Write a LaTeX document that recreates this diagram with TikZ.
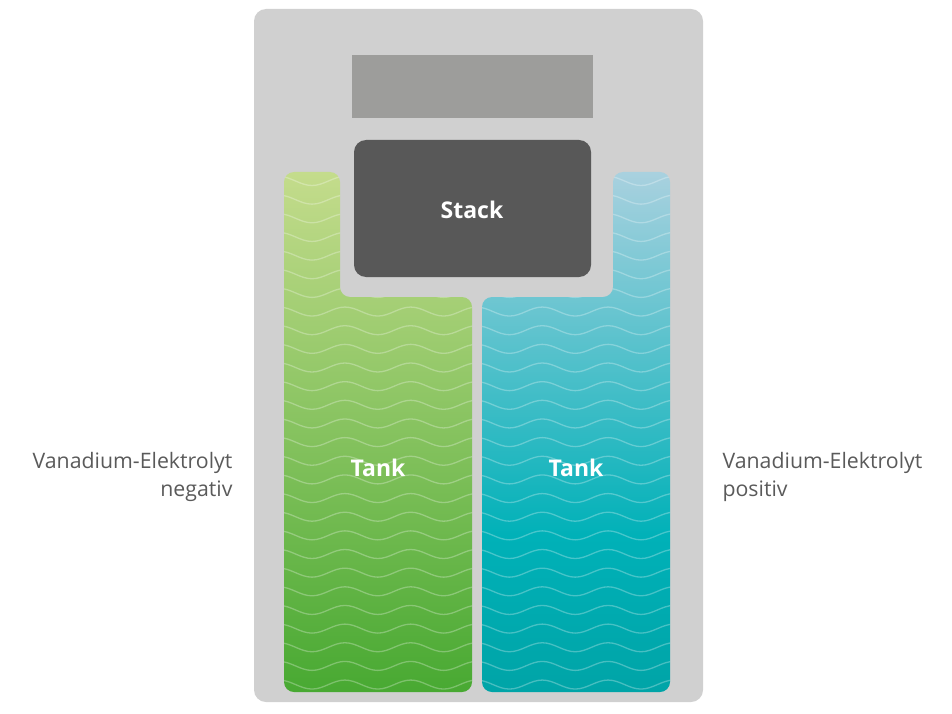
\documentclass[tikz,border=0pt]{standalone}
\usepackage{fontspec}
\setmainfont{Open Sans}
\usepackage{tikz}
\usepackage{xcolor}
\definecolor{housing}{HTML}{D0D0D0}
\definecolor{panelgray}{HTML}{9D9D9B}
\definecolor{stackgray}{HTML}{585858}
\definecolor{labelgray}{HTML}{5A5A5A}
\definecolor{negtop}{HTML}{C4DC8C}
\definecolor{negbottom}{HTML}{48A932}
\definecolor{postop}{HTML}{A9D1DF}
\definecolor{posmid}{HTML}{00B1B8}
\definecolor{posbottom}{HTML}{00A4A7}
\pgfdeclareverticalshading{posfill}{100bp}{color(0bp)=(posbottom); color(25bp)=(posbottom); color(40bp)=(posmid); color(75bp)=(postop); color(100bp)=(postop)}
\tikzset{
	tanktext/.style={text=white, font=\bfseries\fontsize{23}{26}\selectfont},
	sidetext/.style={text=labelgray, font=\fontsize{21.3}{28}\selectfont},
	wave/.style={white, opacity=0.28, line width=1.3pt},
}

\begin{document}
\begin{tikzpicture}[x=1pt,y=-1pt]
		\useasboundingbox (0,0) rectangle (952,714);
		\fill[housing, rounded corners=12pt] (254,9) rectangle (703,702);
		\fill[panelgray] (352,55) rectangle (593,118);
		\fill[stackgray, rounded corners=12pt] (354,140) rectangle (591,277);
		% tanks
		\path[top color=negtop, bottom color=negbottom, rounded corners=10pt, save path=\negtank] (284,692) -- (284,172) -- (340,172) -- (340,297) -- (472,297) -- (472,692) -- cycle;
		\path[shading=posfill, rounded corners=10pt, save path=\postank] (670,692) -- (670,172) -- (613,172) -- (613,297) -- (482,297) -- (482,692) -- cycle;
		% electrolyte waves
		\begin{scope}
			\clip[use path=\negtank];
			\foreach \k in {0,...,27}
				\draw[wave] (213.3,176.5+18.65*\k) \foreach \i in {1,...,8} {cos ++(16.45,4.5) sin ++(16.45,4.5) cos ++(16.45,-4.5) sin ++(16.45,-4.5)};
		\end{scope}
		\begin{scope}
			\clip[use path=\postank];
			\foreach \k in {0,...,27}
				\draw[wave] (213.3,176.5+18.65*\k) \foreach \i in {1,...,8} {cos ++(16.45,4.5) sin ++(16.45,4.5) cos ++(16.45,-4.5) sin ++(16.45,-4.5)};
		\end{scope}
		\node[tanktext, anchor=base] (stack) at (472,218) {Stack};
		\node[tanktext, anchor=base] (tankneg) at (378,476) {Tank};
		\node[tanktext, anchor=base] (tankpos) at (576,476) {Tank};
		\node[sidetext, align=right, anchor=base east] (lblneg) at (236,496) {Vanadium-Elektrolyt\\negativ};
		\node[sidetext, align=left, anchor=base west] (lblpos) at (719,496) {Vanadium-Elektrolyt\\positiv};
	\end{tikzpicture}
\end{document}
